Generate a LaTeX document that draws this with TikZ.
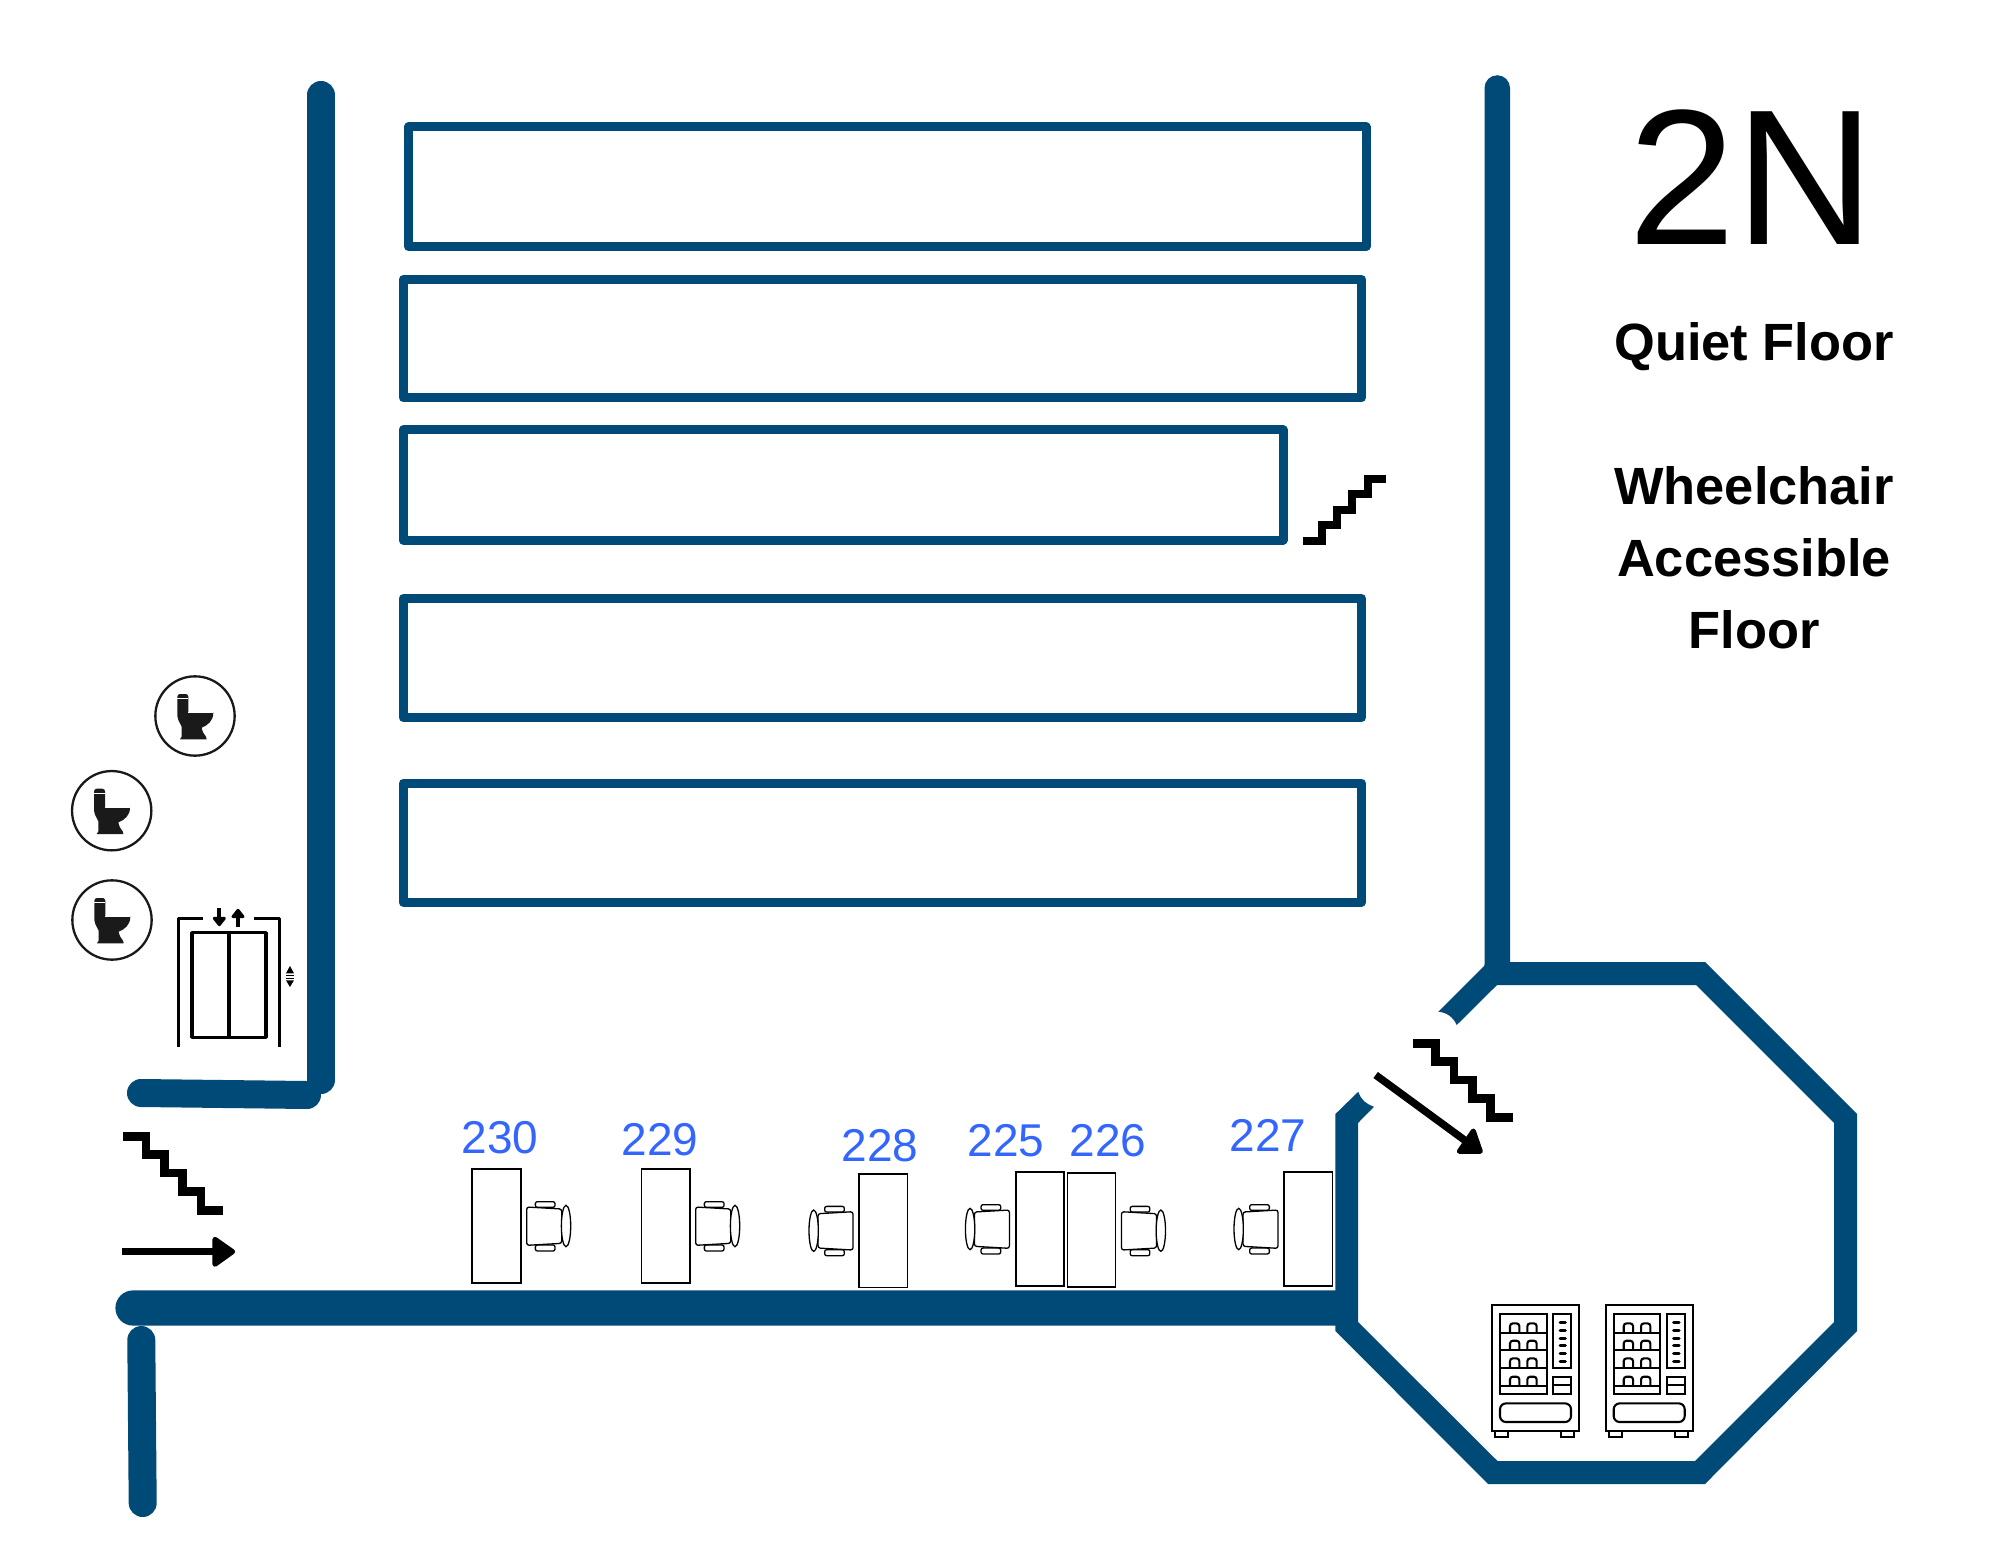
\documentclass[tikz,border=0pt]{standalone}
\usepackage{fontspec}
\setmainfont{Liberation Sans}
\definecolor{wall}{HTML}{004A77}
\definecolor{roomnum}{HTML}{3366FF}
\definecolor{toiletc}{HTML}{1A1A1A}
\tikzset{
  wallline/.style={draw=wall,line cap=round,line width=14pt},
  stack/.style={draw=wall,line width=4.5pt,line join=round},
  stairline/.style={draw=black,line width=4.4pt,miter limit=10},
  desk/.style={draw=black,line width=0.8pt,fill=white},
  chairpart/.style={draw=black,line width=0.65pt,fill=white},
  roomlabel/.style={text=roomnum,font=\fontsize{23}{26}\selectfont,anchor=base,inner sep=0pt},
  sidelabel/.style={font=\fontsize{26.2}{30}\selectfont\bfseries,anchor=base,inner sep=0pt},
  vendline/.style={draw=black,line width=1.05pt},
  elevline/.style={draw=black,line width=1.7pt,line join=round},
}
\newcommand{\deskchair}[3]{%
  \begin{scope}[shift={(#1,#2)},xscale=#3,yscale=0.3333]
    \draw[chairpart,rounded corners=1pt] (26,-73) rectangle (85,-56);
    \draw[chairpart,rounded corners=1pt] (26,57) rectangle (85,75);
    \draw[chairpart,rounded corners=1.2pt] (0,-57) -- (105,-51) -- (105,52) -- (0,58) -- cycle;
    \draw[chairpart] (118,0) ellipse [x radius=14,y radius=62];
  \end{scope}}
\newcommand{\toilet}[2]{%
  \begin{scope}[shift={(#1,#2)},scale=0.3333]
    \draw[black!90,line width=1.15pt] (0,0) circle (119);
    \fill[toiletc] (-53,-58) to[out=90,in=180] (-45,-66) -- (-28,-66) to[out=0,in=90] (-20,-58) -- (-20,-10) -- (55,-10) .. controls (55,15) and (38,28) .. (20,35) .. controls (22,48) and (28,56) .. (33,62) -- (35,70) -- (-45,70) -- (-40,62) -- (-40,32) -- (-50,12) -- (-53,0) -- cycle;
    \draw[white,line width=0.35pt] (-53,-53) -- (-20,-53);
    \draw[white,line width=0.35pt] (-20,-10) -- (55,-10);
  \end{scope}}
\newcommand{\vending}[2]{%
  \begin{scope}[shift={(#1,#2)},scale=0.3333]
    \draw[vendline] (0,0) rectangle (261,379);
    \draw[vendline] (24,28) rectangle (164,269);
    \foreach \yy in {84,136,189,244}{
      \draw[vendline] (24,\yy) -- (164,\yy);
      \draw[vendline,rounded corners=1.4pt] (54,\yy) -- (54,\yy-28) -- (82,\yy-28) -- (82,\yy);
      \draw[vendline,rounded corners=1.4pt] (106,\yy) -- (106,\yy-28) -- (134,\yy-28) -- (134,\yy);
    }
    \draw[vendline] (184,28) rectangle (237,189);
    \foreach \yy in {54,77,100,123,146,169}{
      \draw[draw=black,line width=1.5pt,line cap=round] (204,\yy) -- (220,\yy);
    }
    \draw[vendline] (184,216) rectangle (237,269);
    \draw[vendline] (184,242) -- (237,242);
    \draw[vendline,rounded corners=3pt] (24,296) rectangle (237,352);
    \draw[vendline] (9,379) rectangle (49,397);
    \draw[vendline] (207,379) rectangle (246,397);
  \end{scope}}
\begin{document}
\begin{tikzpicture}[x=0.5pt,y=-0.5pt]
\useasboundingbox (0,0) rectangle (2000,1545);
\fill[white] (0,0) rectangle (2000,1545);

% stacks
\draw[stack] (408.5,127) rectangle (1366,246.5);
\draw[stack] (403,279.5) rectangle (1361.5,398);
\draw[stack] (403,430) rectangle (1283,540);
\draw[stack] (403,598.5) rectangle (1361.5,717.5);
\draw[stack] (403,783) rectangle (1361.5,902);

% walls
\draw[wallline] (321,95) -- (321,1080);
\draw[wallline] (141,1093) -- (307,1095);
\draw[wallline] (141.3,1340) -- (142.7,1503);
\fill[wall] (133,1290.4) arc[start angle=270,end angle=90,radius=17.6] -- (1336,1325.6) -- (1336,1290.4) -- cycle;
\fill[wall] (1484.5,88) arc[start angle=180,end angle=360,radius=12.75] -- (1510,975) -- (1484.5,975) -- cycle;

% octagonal room, with door gap
\fill[wall] (1438.3,1011.7) -- (1484,966) -- (1486,962) -- (1705,962) -- (1857,1114) -- (1857,1331)
  -- (1705,1484) -- (1488,1484) -- (1335.4,1331) -- (1335.4,1114) -- (1358.3,1091.7)
  .. controls (1361,1100) and (1366,1104) .. (1374,1106.7)
  -- (1358,1123) -- (1358,1322) -- (1497.5,1461) -- (1695,1461) -- (1834,1322) -- (1834,1123)
  -- (1696,985) -- (1497,985) -- (1456.7,1025)
  .. controls (1453,1017) and (1447,1012.5) .. (1438.3,1011.7) -- cycle;

% stairs
\begin{scope}[shift={(90,1060)},scale=0.3333]
  \draw[stairline] (100,229) -- (168,229) -- (168,284) -- (223,284) -- (223,339) -- (278,339) -- (278,395) -- (333,395) -- (333,451) -- (399,451);
\end{scope}
\begin{scope}[shift={(1320,940)},scale=0.3333]
  \draw[stairline] (279,310) -- (347,310) -- (347,364) -- (402,364) -- (402,420) -- (457,420) -- (457,476) -- (512,476) -- (512,532) -- (578,532);
  \draw[black,line width=3.75pt] (167,405) -- (440,605);
  \filldraw[black,line width=2.5pt,line join=round] (460,573) -- (481,634) -- (418,634) -- cycle;
\end{scope}
\begin{scope}[shift={(1280,440)},scale=0.3333]
  \draw[stairline,line width=4pt] (70,303) -- (126,303) -- (126,256) -- (171,256) -- (171,209) -- (217,209) -- (217,163) -- (263,163) -- (263,116) -- (318,116);
\end{scope}

% entry arrow
\begin{scope}[shift={(90,1060)},scale=0.3333]
  \draw[black,line width=3.75pt] (97,575) -- (375,575);
  \filldraw[black,line width=2.5pt,line join=round] (375,538) -- (375,613) -- (428,575) -- cycle;
\end{scope}

% toilets
\toilet{195}{716}
\toilet{111.7}{810.7}
\toilet{112}{920}

% elevator
\begin{scope}[shift={(50,650)},scale=0.3333]
  \draw[elevline] (386,1190) -- (386,806) -- (458,806);
  \draw[elevline] (612,806) -- (688,806) -- (688,1190);
  \draw[elevline] (426,848) rectangle (648,1162);
  \draw[elevline] (537,848) -- (537,1162);
  \draw[black,line width=2pt] (508,775) -- (508,815);
  \filldraw[black,line width=1.5pt,line join=round] (493,805) -- (523,805) -- (508,824) -- cycle;
  \draw[black,line width=2pt] (564,790) -- (564,830);
  \filldraw[black,line width=1.5pt,line join=round] (549,800) -- (579,800) -- (564,781) -- cycle;
  \fill[black] (708,970) -- (732,970) -- (720,948) -- cycle;
  \draw[black,line width=0.6pt] (708,977) -- (732,977);
  \draw[black,line width=0.6pt] (708,985) -- (732,985);
  \fill[black] (708,991) -- (732,991) -- (720,1011) -- cycle;
\end{scope}

% desks
\draw[desk] (472,1169) rectangle (520.7,1282.7);
\draw[desk] (641.3,1169) rectangle (690,1282.7);
\draw[desk] (859,1173.7) rectangle (907.6,1287.3);
\draw[desk] (1015.7,1172) rectangle (1064,1285.7);
\draw[desk] (1067.5,1173) rectangle (1115.6,1286.7);
\draw[desk] (1283.9,1172) rectangle (1332.3,1285.7);

% chairs
\deskchair{526.7}{1226}{0.3333}
\deskchair{695.7}{1226}{0.3333}
\deskchair{853}{1230.7}{-0.3333}
\deskchair{1009.4}{1229}{-0.3333}
\deskchair{1121.5}{1230.7}{0.3333}
\deskchair{1278}{1229}{-0.3333}

% vending machines
\vending{1492}{1304.7}
\vending{1605.7}{1304.7}

% room numbers
\node[roomlabel] (r230) at (500,1153) {230};
\node[roomlabel] (r229) at (660,1155) {229};
\node[roomlabel] (r228) at (880,1161.7) {228};
\node[roomlabel] (r225) at (1006,1156.7) {225};
\node[roomlabel] (r226) at (1108,1156.7) {226};
\node[roomlabel] (r227) at (1268,1151) {227};

% side labels
\node[anchor=base,inner sep=0pt,font=\fontsize{96.5}{100}\selectfont] (title) at (1752,245) {2N};
\node[sidelabel] (quiet) at (1754,361) {Quiet Floor};
\node[sidelabel] (wheel) at (1754,504) {Wheelchair};
\node[sidelabel] (access) at (1754,576) {Accessible};
\node[sidelabel] (floor) at (1754,648) {Floor};
\end{tikzpicture}
\end{document}
